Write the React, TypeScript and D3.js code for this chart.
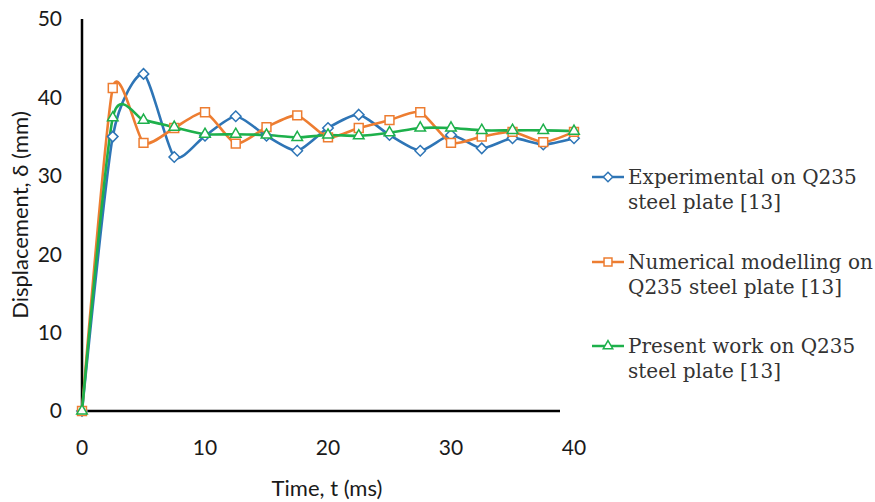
import React, { useEffect, useRef } from "react";
import * as d3 from "d3";

const times = [0, 2.5, 5, 7.5, 10, 12.5, 15, 17.5, 20, 22.5, 25, 27.5, 30, 32.5, 35, 37.5, 40];
const experimental = [0, 35, 43, 32.4, 35.1, 37.6, 35.1, 33.2, 36.1, 37.8, 35.2, 33.2, 35.2, 33.5, 34.8, 34, 34.8];
const numerical = [0, 41.2, 34.2, 36.1, 38.1, 34.1, 36.2, 37.7, 34.9, 36.1, 37.1, 38.1, 34.2, 35, 35.6, 34.3, 35.6];
const present = [0, 37.4, 37.1, 36.2, 35.3, 35.3, 35.2, 34.9, 35.2, 35.1, 35.5, 36.1, 36.1, 35.8, 35.8, 35.8, 35.7];
const yTicks = [0, 10, 20, 30, 40, 50];
const xTicks = [0, 10, 20, 30, 40];
const legendLines = [
  ["Experimental on Q235", "steel plate [13]"],
  ["Numerical modelling on", "Q235 steel plate [13]"],
  ["Present work on Q235", "steel plate [13]"],
];

const colors = ["#2E75B6", "#ED7D31", "#1DB04B"];
const shapes = ["diamond", "square", "triangle"];

export default function App() {
  const ref = useRef<SVGSVGElement>(null);
  useEffect(() => {
    const svg = d3.select(ref.current);
    svg.selectAll("*").remove();
    const x = d3.scaleLinear().domain([0, 40]).range([82, 574]);
    const y = d3.scaleLinear().domain([0, 50]).range([411, 19]);
    const series = [experimental, numerical, present];

    // axes
    svg.append("line").attr("x1", 82).attr("x2", 82).attr("y1", y(50)).attr("y2", y(0))
      .attr("stroke", "#000").attr("stroke-width", 2.5);
    svg.append("line").attr("x1", 82).attr("x2", 560).attr("y1", y(0)).attr("y2", y(0))
      .attr("stroke", "#000").attr("stroke-width", 2.5);

    const sans = "Lato, 'Open Sans', sans-serif";
    svg.selectAll(".yt").data(yTicks).enter().append("text")
      .attr("x", 62).attr("y", (d) => y(d)).attr("dy", "0.35em")
      .attr("text-anchor", "end").attr("font-family", sans)
      .attr("font-size", 21).attr("fill", "#1a1a1a").text((d) => d);
    svg.selectAll(".xt").data(xTicks).enter().append("text")
      .attr("x", (d) => x(d)).attr("y", 448).attr("dy", "0.35em")
      .attr("text-anchor", "middle").attr("font-family", sans)
      .attr("font-size", 21).attr("fill", "#1a1a1a").text((d) => d);
    svg.append("text").attr("x", 327).attr("y", 488).attr("dy", "0.35em")
      .attr("text-anchor", "middle").attr("font-family", sans)
      .attr("font-size", 22).attr("fill", "#1a1a1a").text("Time, t (ms)");
    svg.append("text").attr("transform", "translate(20,215) rotate(-90)").attr("dy", "0.35em")
      .attr("text-anchor", "middle").attr("font-family", sans)
      .attr("font-size", 22).attr("fill", "#1a1a1a").text("Displacement, δ (mm)");

    const line = d3.line<number>().x((_, i) => x(times[i])).y((d) => y(d))
      .curve(d3.curveCardinal.tension(0.35));

    const symbolFor = (s: string, size: number) => {
      if (s === "diamond") return d3.symbol().type(d3.symbolDiamond2).size(size)();
      if (s === "square") return d3.symbol().type(d3.symbolSquare2).size(size)();
      return d3.symbol().type(d3.symbolTriangle2).size(size)();
    };
    const sizes = [70, 100, 80];

    series.forEach((vals, k) => {
      svg.append("path").attr("d", line(vals)).attr("fill", "none")
        .attr("stroke", colors[k]).attr("stroke-width", 2.6);
    });
    series.forEach((vals, k) => {
      svg.selectAll(".m" + k).data(vals).enter().append("path")
        .attr("d", symbolFor(shapes[k], sizes[k]) as string)
        .attr("transform", (d, i) => `translate(${x(times[i])},${y(d)})`)
        .attr("fill", "#fff").attr("stroke", colors[k]).attr("stroke-width", 1.5);
    });

    // legend
    const ly = [177, 262, 346];
    ly.forEach((yy, k) => {
      svg.append("line").attr("x1", 592).attr("x2", 624).attr("y1", yy).attr("y2", yy)
        .attr("stroke", colors[k]).attr("stroke-width", 2.5);
      svg.append("path").attr("d", symbolFor(shapes[k], sizes[k] * 0.8) as string)
        .attr("transform", `translate(608,${yy})`)
        .attr("fill", "#fff").attr("stroke", colors[k]).attr("stroke-width", 1.5);
      legendLines[k].forEach((t, j) => {
        svg.append("text").attr("x", 628).attr("y", yy + j * 24.5).attr("dy", "0.35em")
          .attr("font-family", "'DejaVu Serif', serif").attr("font-size", 20)
          .attr("fill", "#333").text(t);
      });
    });
  }, []);
  return (
    <svg ref={ref} width={875} height={502}
      style={{ position: "absolute", left: 0, top: 0, background: "#fff" }} />
  );
}
